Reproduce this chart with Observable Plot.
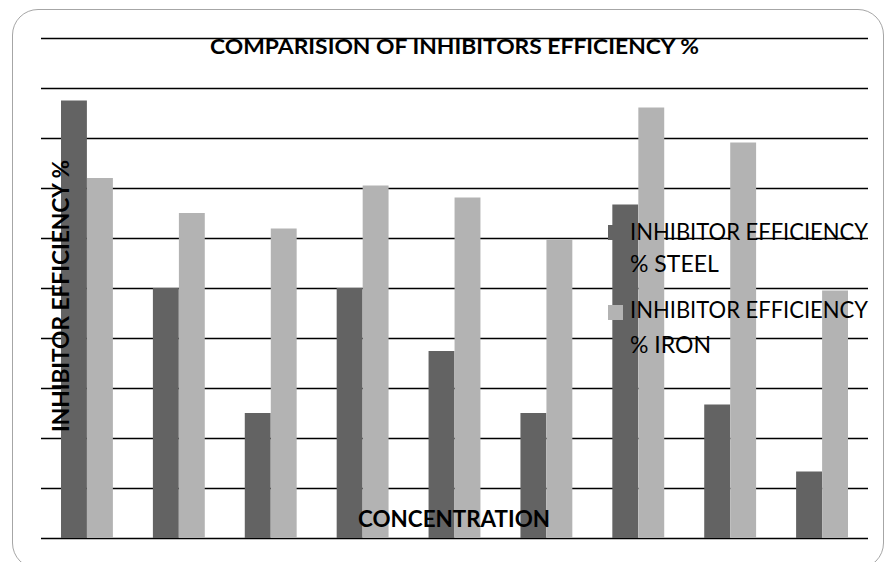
<!DOCTYPE html>
<html>
<head>
<meta charset="utf-8">
<script src="https://cdn.jsdelivr.net/npm/d3@7"></script>
<script src="https://cdn.jsdelivr.net/npm/@observablehq/plot@0.6"></script>
<style>
  html, body { margin: 0; padding: 0; background: #fff; overflow: hidden; }
  #wrap { position: relative; width: 885px; height: 562px; overflow: hidden; }
  #frame { position: absolute; left: 12px; top: 9px; width: 872px; height: 560px;
           border: 1px solid #a6a6a6; border-radius: 26px; box-sizing: border-box; }
  #chart { position: absolute; left: 0; top: 0; }
  #overlay { position: absolute; left: 0; top: 0; pointer-events: none; }
</style>
</head>
<body>
<div id="wrap">
  <div id="frame"></div>
  <div id="chart"></div>
  <svg id="overlay" width="885" height="562"></svg>
</div>
<script>
// ---- data ----
const concentrations = ["C1", "C2", "C3", "C4", "C5", "C6", "C7", "C8", "C9"];
const steelEfficiency = [87.5, 50, 25, 50, 37.4, 25, 66.7, 26.7, 13.3];
const ironEfficiency  = [72, 65, 61.9, 70.5, 68.1, 59.7, 86.1, 79.1, 49.5];
const yGrid = [0, 10, 20, 30, 40, 50, 60, 70, 80, 90, 100];

const titleText = "COMPARISION OF INHIBITORS EFFICIENCY %";
const xLabel = "CONCENTRATION";
const yLabel = "INHIBITOR EFFICIENCY %";
const seriesNames = ["INHIBITOR EFFICIENCY % STEEL", "INHIBITOR EFFICIENCY % IRON"];
const seriesColors = ["#636363", "#b3b3b3"];

const table = concentrations.map((c, i) => ({
  concentration: c, steel: steelEfficiency[i], iron: ironEfficiency[i]
}));

const chart = Plot.plot({
  width: 885,
  height: 562,
  marginLeft: 41,
  marginRight: 17,
  marginTop: 38,
  marginBottom: 24,
  style: { background: "transparent" },
  x: { domain: concentrations, padding: 0, round: false, axis: null },
  y: { domain: [0, 100], axis: null },
  marks: [
    Plot.ruleY(yGrid, { stroke: "#000", strokeWidth: 1.4 }),
    Plot.barY(table, { x: "concentration", y: "steel", fill: seriesColors[0], insetLeft: 20, insetRight: 46 }),
    Plot.barY(table, { x: "concentration", y: "iron", fill: seriesColors[1], insetLeft: 46, insetRight: 20 })
  ]
});
document.getElementById("chart").appendChild(chart);

// ---- overlay text (title, axis labels, legend) ----
const ov = d3.select("#overlay");
const font = "Lato, 'Open Sans', sans-serif";

ov.append("text").text(titleText)
  .attr("x", 454.5).attr("y", 54).attr("text-anchor", "middle")
  .attr("font-family", font).attr("font-weight", "bold").attr("font-size", 21)
  .attr("textLength", 489).attr("lengthAdjust", "spacingAndGlyphs").attr("fill", "#000");

ov.append("text").text(xLabel)
  .attr("x", 454).attr("y", 526.5).attr("text-anchor", "middle")
  .attr("font-family", font).attr("font-weight", "bold").attr("font-size", 23)
  .attr("textLength", 192).attr("lengthAdjust", "spacingAndGlyphs").attr("fill", "#000");

ov.append("text").text(yLabel)
  .attr("transform", "translate(69,296) rotate(-90)").attr("text-anchor", "middle")
  .attr("font-family", font).attr("font-weight", "bold").attr("font-size", 23)
  .attr("textLength", 272).attr("lengthAdjust", "spacingAndGlyphs").attr("fill", "#000");

// legend
const legendRows = [
  { top: 225, line1: 240, line2: 271.7 },
  { top: 305, line1: 318.3, line2: 352.7 }
];
seriesNames.forEach((name, i) => {
  const r = legendRows[i];
  const parts = name.split(" % ");
  ov.append("rect").attr("x", 608).attr("y", r.top).attr("width", 15).attr("height", 15)
    .attr("fill", seriesColors[i]);
  ov.append("text").text(parts[0])
    .attr("x", 630).attr("y", r.line1)
    .attr("font-family", font).attr("font-size", 23)
    .attr("textLength", 238).attr("lengthAdjust", "spacingAndGlyphs").attr("fill", "#000");
  ov.append("text").text("% " + parts[1])
    .attr("x", 630).attr("y", r.line2)
    .attr("font-family", font).attr("font-size", 23).attr("fill", "#000");
});
</script>
</body>
</html>
